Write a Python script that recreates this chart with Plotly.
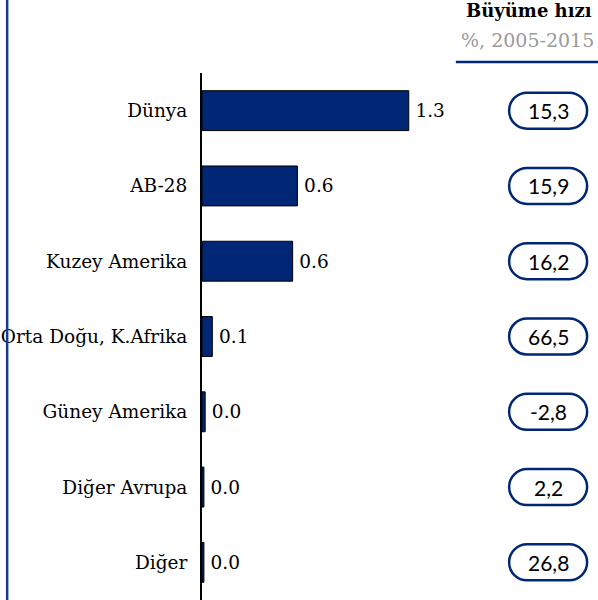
import plotly.graph_objects as go

regions = ["Dünya", "AB-28", "Kuzey Amerika", "Orta Doğu, K.Afrika",
           "Güney Amerika", "Diğer Avrupa", "Diğer"]
values = [1.3, 0.6, 0.57, 0.065, 0.02, 0.012, 0.012]
growth = [15.3, 15.9, 16.2, 66.5, -2.8, 2.2, 26.8]

navy = "#002676"
serif = "DejaVu Serif"
pos = list(range(len(regions)))

fig = go.Figure(go.Bar(
    x=values, y=pos, orientation="h",
    width=0.53,
    marker=dict(color=navy, line=dict(color="black", width=1)),
    texttemplate="\u2009%{x:.1f}",
    textposition="outside",
    textfont=dict(family=serif, size=18.5, color="black"),
    cliponaxis=False,
))

# pill-shaped boxes with the growth rates
pill = ("M -21,-18 L 21,-18 C 31,-18 39,-10 39,0 C 39,10 31,18 21,18 "
        "L -21,18 C -31,18 -39,10 -39,0 C -39,-10 -31,-18 -21,-18 Z")
pill_x = 0.874
for p, g in zip(pos, growth):
    fig.add_shape(type="path", path=pill, xref="paper", yref="y",
                  xsizemode="pixel", ysizemode="pixel",
                  xanchor=pill_x, yanchor=p,
                  line=dict(color=navy, width=2.5), fillcolor="white")
    fig.add_annotation(x=pill_x, y=p, xref="paper", yref="y",
                       xanchor="center", yanchor="middle",
                       text=("%.1f" % g).replace(".", ","), showarrow=False,
                       font=dict(family="Lato", size=21, color="black"))

# header on the right
fig.add_annotation(x=0.99, y=1.118, xref="paper", yref="paper",
                   xanchor="right", yanchor="middle",
                   text="<b>Büyüme hızı</b>", showarrow=False,
                   font=dict(family=serif, size=18, color="black"))
fig.add_annotation(x=0.995, y=1.063, xref="paper", yref="paper",
                   xanchor="right", yanchor="middle",
                   text="%, 2005-2015", showarrow=False,
                   font=dict(family=serif, size=19, color="#9a9a9a"))
fig.add_shape(type="line", xref="paper", yref="paper", x0=0.641, x1=1.0,
              y0=1.021, y1=1.021, line=dict(color=navy, width=2.5))

# left frame line
fig.add_shape(type="line", xref="paper", yref="paper", x0=-0.492, x1=-0.492,
              y0=-0.01, y1=1.15, line=dict(color="#173a8c", width=2.5))

fig.update_layout(
    width=598, height=600,
    margin=dict(l=202, r=0, t=73, b=0),
    plot_bgcolor="white", paper_bgcolor="white",
    showlegend=False,
    xaxis=dict(range=[0, 2.49], visible=False, fixedrange=True),
    yaxis=dict(tickvals=pos, ticktext=regions, range=[6.5, -0.5],
               showline=True, linecolor="black", linewidth=2,
               showgrid=False, zeroline=False, ticks="",
               automargin=False, ticklabelstandoff=9,
               tickfont=dict(family=serif, size=18.5, color="black")),
)

fig.write_html("out.html", config={"displayModeBar": False},
               post_script="document.body.style.margin='0';")
